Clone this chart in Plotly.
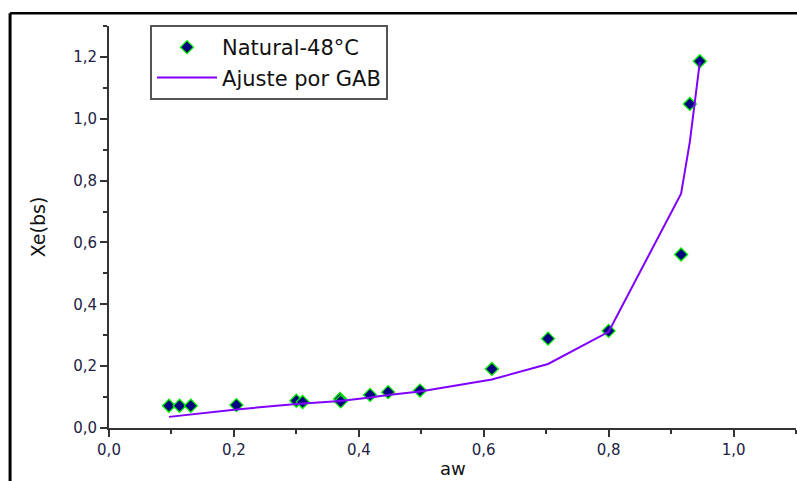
import plotly.graph_objects as go

# Experimental data (Natural-48°C)
aw = [0.096, 0.113, 0.131, 0.204, 0.300, 0.310, 0.370, 0.371, 0.418, 0.447,
      0.498, 0.613, 0.703, 0.800, 0.916, 0.930, 0.946]
xe = [0.072, 0.072, 0.072, 0.074, 0.088, 0.084, 0.094, 0.086, 0.107, 0.116,
      0.121, 0.191, 0.289, 0.314, 0.561, 1.048, 1.186]

# GAB fit line
fit_aw = [0.096, 0.204, 0.300, 0.370, 0.418, 0.447, 0.498, 0.613, 0.703,
          0.800, 0.916, 0.930, 0.946]
fit_xe = [0.036, 0.060, 0.078, 0.087, 0.099, 0.107, 0.118, 0.157, 0.207,
          0.311, 0.758, 0.925, 1.183]

x_ticks = [0.0, 0.2, 0.4, 0.6, 0.8, 1.0]
y_ticks = [0.0, 0.2, 0.4, 0.6, 0.8, 1.0, 1.2]

FONT = "DejaVu Sans"

fig = go.Figure()
fig.add_trace(go.Scatter(
    x=aw, y=xe, mode="markers", name="Natural-48°C",
    marker=dict(symbol="diamond", size=10, color="#000080",
                line=dict(color="#00EE00", width=1.3)),
))
fig.add_trace(go.Scatter(
    x=fit_aw, y=fit_xe, mode="lines", name="Ajuste por GAB",
    line=dict(color="#8000FF", width=2),
))

axis_common = dict(
    showline=True, linecolor="#333333", linewidth=2,
    ticks="outside", ticklen=7, tickwidth=2, tickcolor="#333333",
    showgrid=False, zeroline=False, mirror=False, automargin=False,
    tickfont=dict(family=FONT, size=15, color="#222244"),
    minor=dict(ticks="outside", ticklen=4, tickwidth=2, tickcolor="#333333", dtick=0.1),
)

fig.update_xaxes(
    range=[0, 1.1], tickvals=x_ticks, tickformat=".1f",
    **axis_common,
)
fig.update_yaxes(
    range=[0, 1.3], tickvals=y_ticks, tickformat=".1f",
    title=dict(text="Xe(bs)", font=dict(family=FONT, size=19, color="#111111"), standoff=22),
    **axis_common,
)

fig.update_layout(
    width=797, height=481,
    margin=dict(l=109, r=1, t=26, b=53),
    paper_bgcolor="white", plot_bgcolor="white",
    separators=", ",
    font=dict(family=FONT),
    showlegend=True,
    legend=dict(
        x=0.0597, y=1.0025, xanchor="left", yanchor="top",
        bgcolor="white", bordercolor="#555555", borderwidth=2,
        font=dict(family=FONT, size=21, color="#111111"),
        itemwidth=60, tracegroupgap=0,
    ),
    annotations=[
        dict(text="aw", xref="paper", yref="paper", x=0.5, y=-0.1,
             xanchor="center", yanchor="middle", showarrow=False,
             font=dict(family=FONT, size=18, color="#111111")),
    ],
    shapes=[
        dict(type="line", xref="paper", yref="paper", x0=-0.144, x1=1.05,
             y0=1.032, y1=1.032, line=dict(color="black", width=2.5)),
        dict(type="line", xref="paper", yref="paper", x0=-0.144, x1=-0.144,
             y0=1.032, y1=-0.2, line=dict(color="black", width=3)),
    ],
)

fig.write_html("out.html")
